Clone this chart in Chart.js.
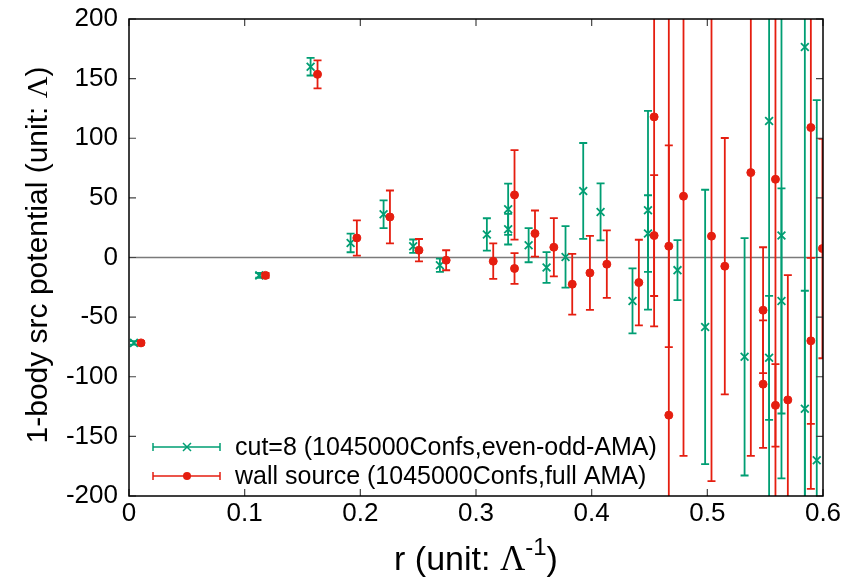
<!DOCTYPE html>
<html>
<head>
<meta charset="utf-8">
<script src="https://cdn.jsdelivr.net/npm/chart.js@4/dist/chart.umd.min.js"></script>
<style>
  html, body { margin: 0; padding: 0; background: #fff; }
  #wrap { width: 862px; height: 580px; }
</style>
</head>
<body>
<div id="wrap"><canvas id="pot"></canvas></div>
<script>
// values
const X_TICKS = [0, 0.1, 0.2, 0.3, 0.4, 0.5, 0.6];
const Y_TICKS = [-200, -150, -100, -50, 0, 50, 100, 150, 200];

const cutLabel = 'cut=8 (1045000Confs,even-odd-AMA)';
const cutR = [0.0043, 0.1126, 0.157, 0.1916, 0.2201, 0.2457, 0.2688, 0.3094, 0.3278, 0.3278,
  0.3455, 0.361, 0.3774, 0.3927, 0.4077, 0.4353, 0.4487, 0.4487, 0.4742, 0.4981,
  0.5322, 0.5534, 0.5534, 0.5641, 0.5641, 0.5843, 0.5843, 0.5946];
const cutV = [-71.6, -15, 160, 12.2, 36.3, 9.5, -6.5, 19.3, 40.5, 23.7,
  10.3, -8.4, 0.5, 55.8, 38.2, -36.4, 39.6, 20.1, -10.6, -58.2,
  -83.3, 114.5, -84.1, 18.4, -36.4, -126.9, 176.5, -170];
const cutErr = [1.5, 2, 7.4, 7.8, 11.6, 5.6, 5.6, 13.6, 21.5, 12.8,
  14.3, 12.9, 25.8, 40.2, 23.9, 27.3, 83.3, 32.1, 25.1, 115,
  99.5, 330, 52, 203.7, 94.4, 99, 400, 302];

const wallLabel = 'wall source (1045000Confs,full AMA)';
const wallR = [0.0104, 0.118, 0.163, 0.197, 0.2256, 0.2507, 0.2742, 0.3149, 0.3333, 0.3333,
  0.351, 0.3673, 0.3832, 0.3985, 0.4131, 0.4408, 0.454, 0.454, 0.4667, 0.4667,
  0.4794, 0.5036, 0.5151, 0.5376, 0.5482, 0.5482, 0.5589, 0.5589, 0.5696, 0.5895,
  0.5895, 0.5995];
const wallV = [-71.6, -15, 153.6, 16.4, 34, 6.1, -2.3, -3.1, 52.5, -9.2,
  20.1, 8.6, -22.4, -12.9, -5.6, -21, 117.9, 18.4, -132.2, 9.5,
  51.4, 17.9, -7.3, 71.2, -44.2, -106.2, 65.6, -124, -119.4, 109,
  -69.9, 7.5];
const wallErr = [1.5, 2, 11.7, 14.8, 22.2, 9.4, 8.4, 14.9, 37.5, 12.9,
  19.3, 24.5, 25.5, 31, 28.3, 35.9, 175.7, 50.7, 340, 84.6,
  217.7, 205.4, 107.5, 237.5, 52.8, 53.5, 300, 34.6, 104.6, 303,
  69.6, 92];

const GREEN = '#009e73';
const RED = '#e51e10';
const SANS = '"Liberation Sans", Arial, sans-serif';
const SERIF = '"Liberation Serif", "DejaVu Serif", serif';

function toPoints(rs, vs) {
  return rs.map((r, i) => ({ x: r, y: vs[i] }));
}

function fmtTick(v) {
  return String(Number(v.toFixed(1)));
}

// draws each series' error bars just before its markers
const errorBars = {
  id: 'errorBars',
  beforeDatasetDraw(chart, args) {
    const ds = chart.data.datasets[args.index];
    if (!ds.errs) return;
    const { ctx, chartArea: a, scales } = chart;
    ctx.save();
    ctx.beginPath();
    ctx.rect(a.left, a.top, a.right - a.left, a.bottom - a.top);
    ctx.clip();
    ctx.strokeStyle = ds.borderColor;
    ctx.lineWidth = 1.8;
    ds.data.forEach((p, i) => {
      const x = scales.x.getPixelForValue(p.x);
      const y1 = scales.y.getPixelForValue(p.y + ds.errs[i]);
      const y2 = scales.y.getPixelForValue(p.y - ds.errs[i]);
      ctx.beginPath();
      ctx.moveTo(x, y1); ctx.lineTo(x, y2);
      ctx.moveTo(x - 4, y1); ctx.lineTo(x + 4, y1);
      ctx.moveTo(x - 4, y2); ctx.lineTo(x + 4, y2);
      ctx.stroke();
    });
    ctx.restore();
  },
};

// zero line, key, frame with inward mirrored ticks, axis titles
const decor = {
  id: 'decor',
  beforeDatasetsDraw(chart) {
    const { ctx, chartArea: a, scales } = chart;
    const y0 = scales.y.getPixelForValue(0);
    ctx.save();
    ctx.strokeStyle = '#7a7a7a';
    ctx.lineWidth = 1.5;
    ctx.beginPath();
    ctx.moveTo(a.left, y0); ctx.lineTo(a.right, y0);
    ctx.stroke();

    // key
    const rows = [
      { label: cutLabel, color: GREEN, y: 447, style: 'x' },
      { label: wallLabel, color: RED, y: 476, style: 'o' },
    ];
    ctx.font = '25px ' + SANS;
    ctx.textBaseline = 'middle';
    ctx.textAlign = 'left';
    rows.forEach((r) => {
      ctx.strokeStyle = r.color;
      ctx.lineWidth = 1.5;
      ctx.beginPath();
      ctx.moveTo(153, r.y); ctx.lineTo(220, r.y);
      ctx.moveTo(153, r.y - 4); ctx.lineTo(153, r.y + 4);
      ctx.moveTo(220, r.y - 4); ctx.lineTo(220, r.y + 4);
      ctx.stroke();
      if (r.style === 'x') {
        ctx.beginPath();
        ctx.moveTo(183, r.y - 4); ctx.lineTo(191, r.y + 4);
        ctx.moveTo(183, r.y + 4); ctx.lineTo(191, r.y - 4);
        ctx.stroke();
      } else {
        ctx.fillStyle = r.color;
        ctx.beginPath();
        ctx.arc(187, r.y, 4, 0, Math.PI * 2);
        ctx.fill();
      }
      ctx.fillStyle = '#000';
      ctx.fillText(r.label, 235, r.y + 1);
    });
    ctx.restore();
  },
  afterDraw(chart) {
    const { ctx, chartArea: a, scales } = chart;
    ctx.save();
    ctx.strokeStyle = '#444';
    ctx.lineWidth = 1.2;
    ctx.beginPath();
    scales.x.ticks.forEach((t) => {
      const x = scales.x.getPixelForValue(t.value);
      ctx.moveTo(x, a.bottom); ctx.lineTo(x, a.bottom - 7);
      ctx.moveTo(x, a.top); ctx.lineTo(x, a.top + 7);
    });
    scales.y.ticks.forEach((t) => {
      const y = scales.y.getPixelForValue(t.value);
      ctx.moveTo(a.left, y); ctx.lineTo(a.left + 7, y);
      ctx.moveTo(a.right, y); ctx.lineTo(a.right - 7, y);
    });
    ctx.stroke();

    ctx.strokeStyle = '#000';
    ctx.lineWidth = 1.5;
    ctx.strokeRect(a.left, a.top, a.right - a.left, a.bottom - a.top);

    ctx.fillStyle = '#000';
    ctx.textBaseline = 'alphabetic';
    ctx.textAlign = 'left';

    // y title, rotated, mixed fonts
    const yParts = [
      { t: '1-body src potential (unit: ', f: '30px ' + SANS },
      { t: 'Λ', f: '30px ' + SERIF },
      { t: ')', f: '30px ' + SANS },
    ];
    let total = 0;
    yParts.forEach((p) => { ctx.font = p.f; p.w = ctx.measureText(p.t).width; total += p.w; });
    ctx.translate(47, 255);
    ctx.rotate(-Math.PI / 2);
    let cx = -total / 2;
    yParts.forEach((p) => { ctx.font = p.f; ctx.fillText(p.t, cx, 0); cx += p.w; });
    ctx.setTransform(1, 0, 0, 1, 0, 0);

    // x title with superscript
    const xParts = [
      { t: 'r (unit: ', f: '34px ' + SANS, dy: 0 },
      { t: 'Λ', f: '35px ' + SERIF, dy: 0 },
      { t: '-1', f: '24px ' + SANS, dy: -15 },
      { t: ')', f: '34px ' + SANS, dy: 0 },
    ];
    total = 0;
    xParts.forEach((p) => { ctx.font = p.f; p.w = ctx.measureText(p.t).width; total += p.w; });
    cx = 476 - total / 2;
    xParts.forEach((p) => {
      ctx.font = p.f;
      ctx.fillText(p.t, cx, 570 + p.dy);
      cx += p.w;
    });
    ctx.restore();
  },
};

new Chart(document.getElementById('pot'), {
  type: 'scatter',
  data: {
    datasets: [
      {
        label: cutLabel,
        data: toPoints(cutR, cutV),
        errs: cutErr,
        borderColor: GREEN,
        backgroundColor: GREEN,
        pointStyle: 'crossRot',
        pointRadius: 5.5,
        borderWidth: 1.8,
        order: 1,
      },
      {
        label: wallLabel,
        data: toPoints(wallR, wallV),
        errs: wallErr,
        borderColor: RED,
        backgroundColor: RED,
        pointStyle: 'circle',
        pointRadius: 4,
        borderWidth: 1,
        order: 0,
      },
    ],
  },
  options: {
    responsive: true,
    maintainAspectRatio: false,
    animation: false,
    events: [],
    layout: { padding: { left: 0, right: 39, top: 19, bottom: 0 } },
    plugins: { legend: { display: false }, tooltip: { enabled: false } },
    scales: {
      x: {
        type: 'linear',
        min: 0,
        max: 0.6,
        afterBuildTicks: (s) => { s.ticks = X_TICKS.map((v) => ({ value: v })); },
        afterFit: (s) => { s.height = 84; s.paddingLeft = 0; s.paddingRight = 0; },
        grid: { display: false, drawTicks: false },
        border: { display: false },
        ticks: { color: '#000', padding: 2, maxRotation: 0, font: { family: SANS, size: 26 }, callback: fmtTick },
      },
      y: {
        type: 'linear',
        min: -200,
        max: 200,
        afterBuildTicks: (s) => { s.ticks = Y_TICKS.map((v) => ({ value: v })); },
        afterFit: (s) => { s.width = 129; s.paddingTop = 0; s.paddingBottom = 0; },
        grid: { display: false, drawTicks: false },
        border: { display: false },
        ticks: { color: '#000', padding: 11, font: { family: SANS, size: 26 } },
      },
    },
  },
  plugins: [errorBars, decor],
});
</script>
</body>
</html>
